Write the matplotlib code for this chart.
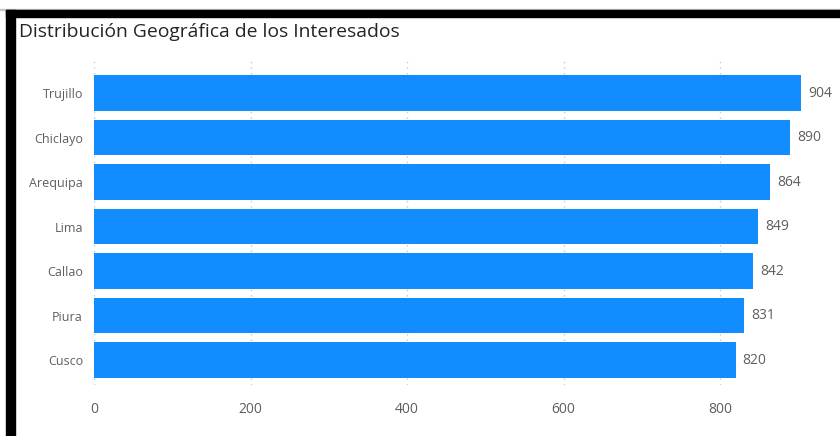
import matplotlib.pyplot as plt
from matplotlib.patches import Rectangle

ciudades = ['Trujillo', 'Chiclayo', 'Arequipa', 'Lima', 'Callao', 'Piura', 'Cusco']
interesados = [904, 890, 864, 849, 842, 831, 820]
ticks_x = [0, 200, 400, 600, 800]

azul = '#118DFF'
gris_texto = '#605E5C'

plt.rcParams['font.family'] = ['Open Sans', 'DejaVu Sans']

fig = plt.figure(figsize=(8.4, 4.36), dpi=100)
ax = fig.add_axes([94 / 840, 1 - 385 / 436, (829.6 - 94) / 840, (385 - 58) / 436])

pos = list(range(len(ciudades)))
ax.barh(pos, interesados, height=0.8, color=azul, zorder=2)

for y, v in zip(pos, interesados):
    ax.text(v + 9, y, f'{v}', va='center', ha='left', fontsize=10, color=gris_texto)

ax.set_xlim(0, 940)
ax.set_ylim(6.56, -0.79)
ax.set_yticks(pos)
ax.set_yticklabels(ciudades)
ax.set_xticks(ticks_x)
ax.tick_params(axis='both', length=0, labelcolor=gris_texto)
ax.tick_params(axis='x', pad=12, labelsize=10)
ax.tick_params(axis='y', pad=8, labelsize=9)
ax.grid(axis='x', linestyle=(0, (1, 3)), color='#C8C8C8', linewidth=1, zorder=0)
for s in ax.spines.values():
    s.set_visible(False)

# marco negro del visual
fig.patches.append(Rectangle((0, 1 - 10 / 436), 1, 1 / 436, transform=fig.transFigure,
                             color='#C8C8C8', zorder=5))
fig.patches.append(Rectangle((6 / 840, 1 - 17 / 436), 1, 7 / 436, transform=fig.transFigure,
                             color='black', zorder=5))
fig.patches.append(Rectangle((6 / 840, 0), 9 / 840, 1 - 10 / 436, transform=fig.transFigure,
                             color='black', zorder=5))

fig.text(19 / 840, 1 - 32 / 436, 'Distribución Geográfica de los Interesados',
         fontsize=13.9, fontweight='medium', color='#252423', va='center', ha='left')

fig.savefig('out.png', dpi=100)
